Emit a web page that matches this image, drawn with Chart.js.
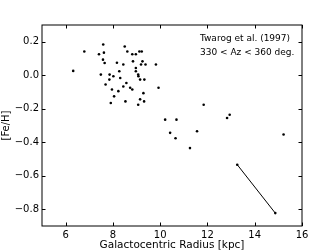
<!DOCTYPE html>
<html><head><meta charset="utf-8">
<script src="https://cdn.jsdelivr.net/npm/chart.js@4"></script>
<style>html,body{margin:0;padding:0;background:#fff}canvas{display:block}</style>
</head><body>
<canvas id="c" width="336" height="252"></canvas>
<script>
const radiusKpc = [7.59,8.50,6.79,7.41,7.62,8.61,8.82,8.97,9.12,9.22,
  7.58,7.65,8.17,8.44,8.85,9.25,9.19,9.38,9.82,6.32,
  8.97,8.27,8.97,7.49,7.86,8.02,9.07,9.08,7.85,8.31,
  9.15,9.33,8.57,7.69,8.44,7.96,8.73,8.82,8.23,9.29,
  9.93,8.05,9.15,9.32,8.53,7.91,9.07,10.21,10.69,11.84,
  10.42,10.65,11.56,11.26,12.83,12.94,15.22];
const feH = [0.184,0.172,0.142,0.125,0.135,0.142,0.125,0.125,0.142,0.142,
  0.093,0.073,0.075,0.064,0.083,0.083,0.064,0.064,0.064,0.026,
  0.043,0.024,0.024,0.004,0.004,-0.006,0.004,-0.006,-0.026,-0.016,
  -0.026,-0.026,-0.046,-0.055,-0.067,-0.085,-0.075,-0.085,-0.095,-0.107,
  -0.075,-0.126,-0.144,-0.156,-0.156,-0.166,-0.176,-0.265,-0.265,-0.176,
  -0.344,-0.376,-0.334,-0.435,-0.255,-0.236,-0.354];
const segRadius = [13.26, 14.87];
const segFeH = [-0.534, -0.823];
const xTicks = [6, 8, 10, 12, 14, 16];
const yTicks = [-0.8, -0.6, -0.4, -0.2, 0.0, 0.2];
const xTitle = 'Galactocentric Radius [kpc]';
const yTitle = '[Fe/H]';
const noteLines = ['Twarog et al. (1997)', '330 < Az < 360 deg.'];

Chart.defaults.font.family = "'DejaVu Sans', sans-serif";
Chart.defaults.color = '#000';

const fmt = v => { const s = Math.abs(v) < 1e-9 ? '0.0' : v.toFixed(1); return s.replace('-', '\u2212'); };

const framePlugin = {
  id: 'frame',
  afterDatasetsDraw(chart) {
    const {ctx, chartArea: a, scales} = chart;
    ctx.save();
    ctx.strokeStyle = '#000';
    ctx.lineWidth = 1;
    const L = 3.5;
    ctx.beginPath();
    scales.x.ticks.forEach(t => {
      const px = Math.round(scales.x.getPixelForValue(t.value));
      ctx.moveTo(px + 0.5, a.top); ctx.lineTo(px + 0.5, a.top + L);
      ctx.moveTo(px + 0.5, a.bottom); ctx.lineTo(px + 0.5, a.bottom - L);
    });
    scales.y.ticks.forEach(t => {
      const py = Math.round(scales.y.getPixelForValue(t.value));
      ctx.moveTo(a.left, py + 0.5); ctx.lineTo(a.left + L, py + 0.5);
      ctx.moveTo(a.right, py + 0.5); ctx.lineTo(a.right - L, py + 0.5);
    });
    ctx.stroke();
    ctx.strokeRect(a.left, a.top, a.right - a.left, a.bottom - a.top);
    ctx.font = "9px 'DejaVu Sans', sans-serif";
    ctx.fillStyle = '#000';
    ctx.textBaseline = 'middle';
    ctx.textAlign = 'left';
    ctx.fillText(noteLines[0], 200, 38.5);
    ctx.fillText(noteLines[1], 200, 53);
    ctx.restore();
  }
};

new Chart(document.getElementById('c'), {
  type: 'scatter',
  data: {
    datasets: [
      {
        data: radiusKpc.map((r, i) => ({x: r, y: feH[i]})),
        backgroundColor: '#000', borderColor: '#000',
        pointRadius: 1.3, borderWidth: 0, pointStyle: 'circle'
      },
      {
        data: segRadius.map((r, i) => ({x: r, y: segFeH[i]})),
        showLine: true, borderColor: '#000', backgroundColor: '#000',
        borderWidth: 1, pointRadius: 1.3, pointBorderWidth: 0
      }
    ]
  },
  options: {
    responsive: false, animation: false, devicePixelRatio: 1,
    layout: {padding: {left: 0, right: 34, top: 25, bottom: 0}},
    plugins: {legend: {display: false}, tooltip: {enabled: false}},
    scales: {
      x: {
        type: 'linear', min: 5, max: 16,
        afterBuildTicks: s => { s.ticks = xTicks.map(v => ({value: v})); },
        afterFit: s => { s.height = 26; },
        grid: {display: false, drawTicks: false},
        border: {display: false},
        ticks: {padding: 3, font: {size: 10}, color: '#000', callback: v => String(v), maxRotation: 0},
        title: {display: true, text: xTitle, font: {size: 10.5}, padding: {top: 0, bottom: 0}, color: '#000'}
      },
      y: {
        type: 'linear', min: -0.9, max: 0.3,
        afterBuildTicks: s => { s.ticks = yTicks.map(v => ({value: v})); },
        afterFit: s => { s.width = 42; },
        grid: {display: false, drawTicks: false},
        border: {display: false},
        ticks: {padding: 3, font: {size: 10}, color: '#000', callback: v => fmt(v)},
        title: {display: true, text: yTitle, font: {size: 10}, padding: {top: 0, bottom: 0}, color: '#000'}
      }
    }
  },
  plugins: [framePlugin]
});
</script>
</body></html>
